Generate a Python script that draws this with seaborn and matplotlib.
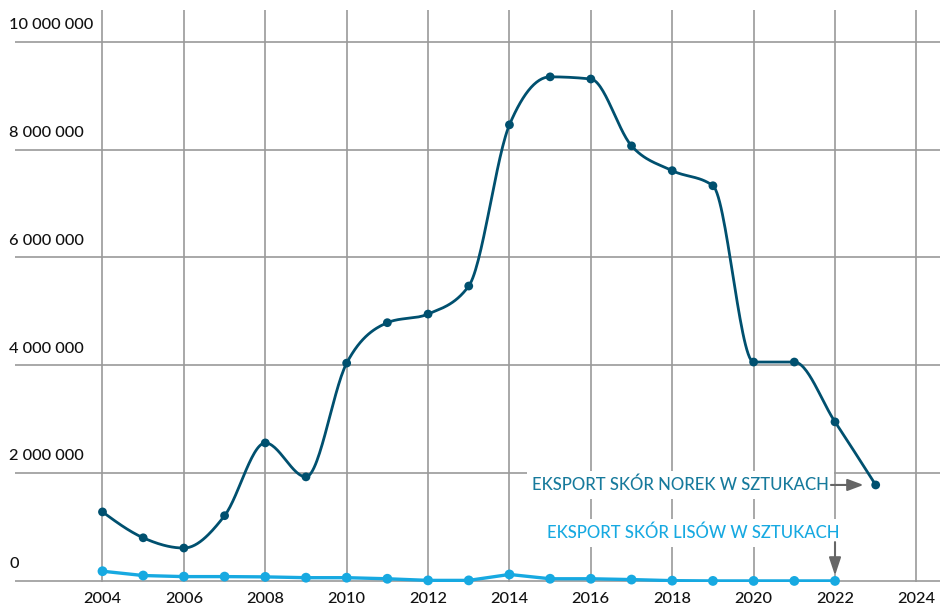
import numpy as np
import pandas as pd
import matplotlib
matplotlib.use("Agg")
import matplotlib.pyplot as plt
import seaborn as sns

# data
years = list(range(2004, 2024))
mink = [1.28, 0.80, 0.61, 1.21, 2.56, 1.93, 4.04, 4.79, 4.95, 5.47,
        8.46, 9.35, 9.31, 8.07, 7.61, 7.33, 4.06, 4.06, 2.95, 1.78]  # millions
fox_years = list(range(2004, 2023))
fox = [0.18, 0.10, 0.08, 0.08, 0.075, 0.06, 0.06, 0.04, 0.01, 0.01,
       0.12, 0.04, 0.04, 0.025, 0.005, 0.0, 0.0, 0.0, 0.0]  # millions

y_ticks = [0, 2, 4, 6, 8, 10]
y_labels = ["0", "2 000 000", "4 000 000", "6 000 000", "8 000 000", "10 000 000"]
x_ticks = list(range(2004, 2025, 2))

label_mink = "EKSPORT SKÓR NOREK W SZTUKACH"
label_fox = "EKSPORT SKÓR LISÓW W SZTUKACH"

MINK_COLOR = "#00506f"
MINK_TEXT = "#177a9c"
FOX_COLOR = "#17a9e1"
GRID = "#9a9a9a"
ARROW = "#666666"


# monotone cubic curve through the points (same idea as d3 curveMonotoneX)
def monotone_curve(x, y, n=30):
    x = np.asarray(x, float)
    y = np.asarray(y, float)
    h = np.diff(x)
    s = np.diff(y) / h
    m = np.zeros_like(y)
    for i in range(1, len(x) - 1):
        p = (s[i - 1] * h[i] + s[i] * h[i - 1]) / (h[i - 1] + h[i])
        m[i] = (np.sign(s[i - 1]) + np.sign(s[i])) * min(abs(s[i - 1]), abs(s[i]), 0.5 * abs(p))
    m[0] = (3 * s[0] - m[1]) / 2
    m[-1] = (3 * s[-1] - m[-2]) / 2
    xs, ys = [], []
    for i in range(len(x) - 1):
        t = np.linspace(0, 1, n, endpoint=False)
        h00 = 2 * t**3 - 3 * t**2 + 1
        h10 = t**3 - 2 * t**2 + t
        h01 = -2 * t**3 + 3 * t**2
        h11 = t**3 - t**2
        xs.append(x[i] + t * h[i])
        ys.append(h00 * y[i] + h10 * h[i] * m[i] + h01 * y[i + 1] + h11 * h[i] * m[i + 1])
    xs.append([x[-1]])
    ys.append([y[-1]])
    return np.concatenate(xs), np.concatenate(ys)


sns.set_theme(style="white")
plt.rcParams["font.family"] = ["Lato", "DejaVu Sans"]
plt.rcParams["font.weight"] = "medium"

fig = plt.figure(figsize=(9.4, 6.06), dpi=100)
ax = fig.add_axes([15 / 940, 24 / 606, 925 / 940, 572 / 606])

cx, cy = monotone_curve(years, mink)
curve = pd.DataFrame({"year": cx, "value": cy})
sns.lineplot(data=curve, x="year", y="value", ax=ax, color=MINK_COLOR,
             linewidth=2.0, sort=False, zorder=3)
sns.scatterplot(x=years, y=mink, ax=ax, color=MINK_COLOR, s=40,
                edgecolor="none", zorder=4)

sns.lineplot(x=fox_years, y=fox, ax=ax, color=FOX_COLOR, linewidth=2.4, zorder=3)
sns.scatterplot(x=fox_years, y=fox, ax=ax, color=FOX_COLOR, s=50,
                edgecolor="none", zorder=4, clip_on=False)

ax.set_xlim(2001.85, 2024.58)
ax.set_ylim(-0.02, 10.59)
ax.set_xticks(x_ticks)
ax.set_xticklabels([str(x) for x in x_ticks])
ax.set_yticks(y_ticks)
ax.set_yticklabels([])
ax.set_xlabel("")
ax.set_ylabel("")
ax.tick_params(axis="x", length=0, pad=7, labelsize=11.8, labelcolor="#111111")
ax.tick_params(axis="y", length=0)
ax.grid(True, color=GRID, linewidth=1.2)
ax.set_axisbelow(True)
for sp in ax.spines.values():
    sp.set_visible(False)

# y labels sit above the gridlines at the left
for v, lab in zip(y_ticks, y_labels):
    ax.annotate(lab, xy=(0, v), xycoords=ax.get_yaxis_transform(),
                xytext=(-4, 7), textcoords="offset points",
                ha="left", va="bottom", fontsize=11.8, color="#111111")

# series labels with arrows
box = dict(facecolor="white", edgecolor="none", pad=4)
ax.text(2021.85, mink[-1], label_mink, ha="right", va="center",
        fontsize=12, color=MINK_TEXT, bbox=box, zorder=5)
ax.annotate("", xy=(years[-1] - 0.3, mink[-1]), xytext=(2021.9, mink[-1]),
            arrowprops=dict(arrowstyle="-|>,head_length=0.8,head_width=0.3",
                            color=ARROW, lw=1.5, shrinkA=0, shrinkB=0), zorder=5)

ax.text(2022.1, 0.89, label_fox, ha="right", va="center",
        fontsize=12, color=FOX_COLOR, bbox=box, zorder=5)
ax.annotate("", xy=(fox_years[-1], fox[-1] + 0.1), xytext=(fox_years[-1], 0.72),
            arrowprops=dict(arrowstyle="-|>,head_length=0.9,head_width=0.3",
                            color=ARROW, lw=1.5, shrinkA=0, shrinkB=0), zorder=5)

fig.savefig("out.png", dpi=100, facecolor="white")
